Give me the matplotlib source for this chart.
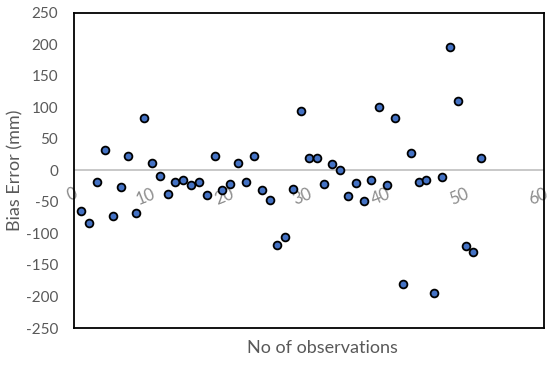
import numpy as np
import matplotlib
matplotlib.use("Agg")
import matplotlib.pyplot as plt

obs = np.arange(1, 53)
bias = [-64, -84, -19, 32, -73, -27, 22, -68, 83, 12,
        -9, -37, -19, -15, -23, -19, -39, 22, -31, -21,
        12, -18, 23, -31, -47, -119, -105, -30, 94, 20,
        19, -22, 10, 0, -41, -20, -49, -15, 101, -23,
        83, -181, 27, -19, -16, -194, -11, 196, 110, -120,
        -130, 20]

xticks = [0, 10, 20, 30, 40, 50, 60]
yticks = [250, 200, 150, 100, 50, 0, -50, -100, -150, -200, -250]

plt.rcParams['font.family'] = ['Lato', 'DejaVu Sans']
grey = '#595959'

fig = plt.figure(figsize=(5.5, 3.68), dpi=100)
ax = fig.add_axes([73.5 / 550, 1 - 328 / 368, (544 - 73.5) / 550, (328 - 12.5) / 368])

ax.axhline(0, color='#bfbfbf', lw=1.2, zorder=1)
ax.plot(obs, bias, 'o', ms=5.6, mfc='#4472C4', mec='black', mew=1.3, zorder=3)

ax.set_xlim(0, 60)
ax.set_ylim(-250, 250)
ax.set_yticks(yticks)
ax.set_yticklabels([str(v) for v in yticks], color=grey, fontsize=11)
ax.tick_params(axis='y', length=0, pad=11)

# x tick labels sit just under the zero line, tilted
ax.set_xticks([])
for t in xticks:
    ax.text(t, -24, str(t), rotation=22, ha='right', va='top', color='#8c8c8c',
            fontsize=12, rotation_mode='anchor', zorder=2)

for s in ax.spines.values():
    s.set_linewidth(1.3)
    s.set_color('black')

fig.text(15 / 550, 1 - 170 / 368, 'Bias Error (mm)', color=grey, fontsize=13,
         rotation=90, ha='center', va='center')
fig.text(322 / 550, 1 - 348 / 368, 'No of observations', color=grey, fontsize=13,
         ha='center', va='center')

fig.savefig('out.png', dpi=100)
